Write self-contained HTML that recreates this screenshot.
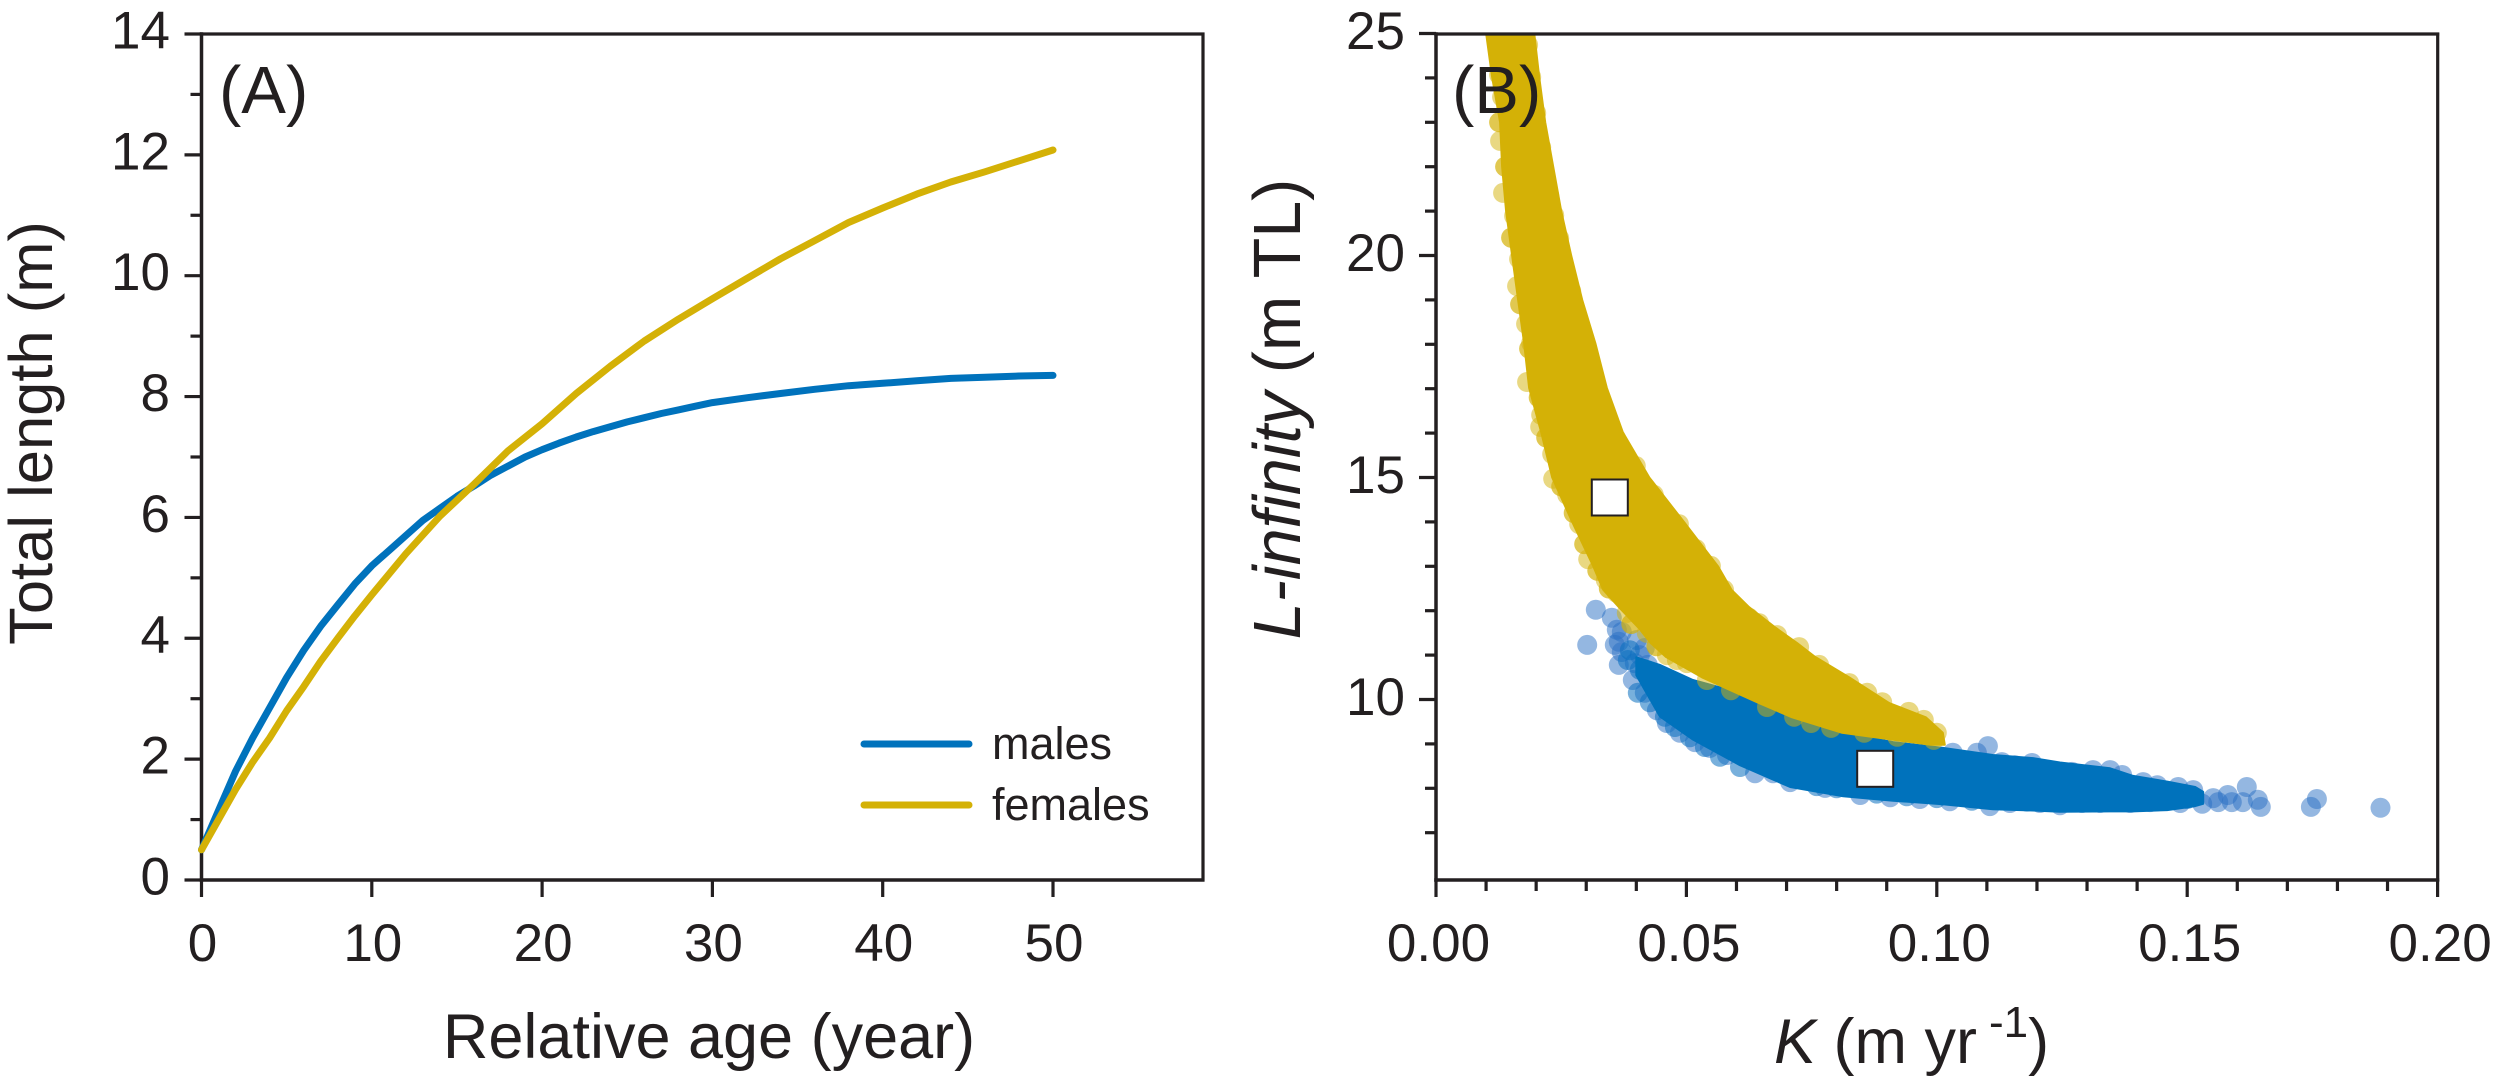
<!DOCTYPE html>
<html lang="en">
<head>
<meta charset="utf-8">
<title>Growth curves and parameter scatter</title>
<style>
html,body{margin:0;padding:0;background:#fff;}
svg{display:block;}
text{font-family:"Liberation Sans",Arial,sans-serif;fill:#231f20;}
</style>
</head>
<body>
<svg id="fig" xmlns="http://www.w3.org/2000/svg" width="2500" height="1083" viewBox="0 0 2500 1083">
  <rect width="2500" height="1083" fill="#fff"/>
  <defs>
    <clipPath id="clipB"><rect x="1436" y="34" width="1002" height="846"/></clipPath>
  </defs>
  <g id="panelA"></g>
  <g id="panelB"></g>
  <text x="219" y="113" font-size="67">(A)</text>
  <text x="1452" y="113" font-size="67" fill="#000">(B)</text>
  <text transform="translate(52 433) rotate(-90)" text-anchor="middle" font-size="61.5">Total length (m)</text>
  <text x="709" y="1058" text-anchor="middle" font-size="63">Relative age (year)</text>
  <text transform="translate(1300 409) rotate(-90)" text-anchor="middle" font-size="66.5"><tspan font-style="italic">L-infinity</tspan> (m TL)</text>
  <text x="1774" y="1063" font-size="63"><tspan font-style="italic">K</tspan> (m yr<tspan dx="12" dy="-26" font-size="44">-1</tspan><tspan dy="26">)</tspan></text>
  <line x1="864" y1="744" x2="969" y2="744" stroke="#0072bc" stroke-width="7" stroke-linecap="round"/>
  <line x1="864" y1="805" x2="969" y2="805" stroke="#d4b106" stroke-width="7" stroke-linecap="round"/>
  <text x="992" y="759" font-size="45">males</text>
  <text x="992" y="820" font-size="45">females</text>
</svg>
<script>
// Panel A: growth curves
const ageTicks = [0, 10, 20, 30, 40, 50];
const lengthTicks = [0, 2, 4, 6, 8, 10, 12, 14];
const lengthMinorTicks = [1, 3, 5, 7, 9, 11, 13];
const maleAges = [0,1,2,3,4,5,6,7,8,9,10,11,12,13,14,15,16,17,18,19,20,21,22,23,24,25,26,27,28,29,30,32,34,36,38,40,42,44,46,48,50];
const maleLengths = [0.5,1.15,1.8,2.35,2.85,3.35,3.8,4.2,4.55,4.9,5.2,5.45,5.7,5.95,6.15,6.35,6.52,6.7,6.85,7.0,7.12,7.23,7.33,7.42,7.5,7.58,7.65,7.72,7.78,7.84,7.9,7.98,8.05,8.12,8.18,8.22,8.26,8.3,8.32,8.34,8.35];
const femaleAges = [0,1,2,3,4,5,6,7,8,9,10,12,14,16,18,20,22,24,26,28,30,32,34,36,38,40,42,44,46,48,50];
const femaleLengths = [0.5,1.0,1.5,1.95,2.35,2.8,3.2,3.62,4.0,4.37,4.72,5.4,6.02,6.55,7.1,7.55,8.05,8.5,8.92,9.28,9.62,9.95,10.28,10.58,10.88,11.12,11.35,11.55,11.72,11.9,12.08];

// Panel B: K vs L-infinity
const kTicks = [0.00, 0.05, 0.10, 0.15, 0.20];
const kTickLabels = ["0.00", "0.05", "0.10", "0.15", "0.20"];
const kMinorTicks = [0.01,0.02,0.03,0.04,0.06,0.07,0.08,0.09,0.11,0.12,0.13,0.14,0.16,0.17,0.18,0.19];
const lInfTicks = [10, 15, 20, 25];
const lInfMinorTicks = [7,8,9,11,12,13,14,16,17,18,19,21,22,23,24];

// dense cores of the clouds
const femaleCoreL = [25.01,24.02,23.0,22.0,21.0,20.0,19.0,18.03,17.02,16.02,15.0,14.0,13.0,12.47,12.08,11.61,11.27,10.96,10.5,9.92,9.6,9.25,8.98];
const femaleCoreKLeft = [0.0100,0.0112,0.0128,0.0132,0.0140,0.0152,0.0164,0.0176,0.0186,0.0210,0.0232,0.0272,0.0314,0.0334,0.0365,0.0405,0.0429,0.0459,0.0531,0.0645,0.0711,0.0811,0.0988];
const femaleCoreKRight = [0.0196,0.0206,0.0218,0.0234,0.0250,0.0270,0.0292,0.0318,0.0341,0.0373,0.0426,0.0495,0.0563,0.0590,0.0625,0.0679,0.0721,0.0757,0.0825,0.0905,0.0978,0.1012,0.1016];
const maleCoreK = [0.0400,0.0447,0.0513,0.0607,0.0707,0.0813,0.0913,0.1012,0.1112,0.1192,0.1246,0.1346,0.1392,0.1460,0.1516,0.1532];
const maleCoreLUpper = [10.95,10.78,10.44,10.15,9.65,9.25,9.04,8.91,8.75,8.68,8.58,8.45,8.28,8.15,8.03,7.92];
const maleCoreLLower = [10.55,9.62,9.10,8.52,8.03,7.82,7.72,7.64,7.53,7.50,7.47,7.48,7.48,7.51,7.60,7.65];

// individually visible samples at the cloud margins
const maleK = [0.0319,0.0302,0.0351,0.0361,0.0371,0.0365,0.0357,0.0371,0.0365,0.0397,0.0407,0.0417,0.0401,0.0423,0.0393,0.0417,0.0441,0.0461,0.0487,0.0517,0.0547,0.0581,0.0637,0.0673,0.0707,0.0777,0.0847,0.0907,0.0966,0.1026,0.1106,0.1146,0.1206,0.1246,0.1290,0.1326,0.1386,0.1426,0.1486,0.1102,0.1032,0.1080,0.1190,0.1156,0.1130,0.1312,0.1346,0.1370,0.1412,0.1440,0.1512,0.1482,0.1270,0.1886,0.1759,0.1747,0.1647,0.1641,0.1619,0.1611,0.1589,0.1581,0.1562,0.1552,0.1530];
const maleL = [12.02,11.23,11.84,11.57,11.52,11.30,11.23,11.07,10.78,10.82,11.0,11.16,11.34,10.78,10.44,10.15,9.76,9.47,9.25,9.04,8.91,8.75,8.34,8.34,8.14,8.01,7.85,7.80,7.76,7.71,7.60,7.67,7.67,7.62,7.67,7.67,7.67,7.69,7.67,8.95,8.80,8.80,8.57,8.52,8.59,8.41,8.41,8.30,8.14,8.07,7.96,8.03,8.37,7.56,7.76,7.58,7.58,7.74,8.03,7.69,7.69,7.85,7.69,7.78,7.65];
const maleExtraK = [0.0383,0.0387,0.0407,0.0427,0.0403,0.0427,0.0457,0.0477,0.0507,0.0537,0.0567,0.0607,0.0760,0.0800,0.0880,0.0940,0.1000,0.1070,0.1180,0.1270,0.1350,0.1450,0.1500];
const maleExtraL = [10.89,11.11,10.67,10.44,10.15,9.94,9.61,9.38,9.15,8.93,8.71,8.48,8.05,8.00,7.88,7.82,7.78,7.72,7.70,7.70,7.70,7.72,7.76];
const femaleK = [0.0126,0.0132,0.0128,0.0134,0.0156,0.0166,0.0162,0.0180,0.0190,0.0200,0.0182,0.0210,0.0208,0.0232,0.0234,0.0262,0.0286,0.0304,0.0339,0.0361,0.0381,0.0421,0.0461,0.0481,0.0501,0.0541,0.0589,0.0661,0.0715,0.0749,0.0789,0.0855,0.0921,0.0184,0.0190,0.0200,0.0210,0.0226,0.0236,0.0246,0.0270,0.0286,0.0305,0.0325,0.0359,0.0399,0.0435,0.0485,0.0519,0.0549,0.0575,0.0625,0.0645,0.0681,0.0725,0.0765,0.0825,0.0861,0.0891,0.0944,0.0974,0.1000,0.0994];
const femaleL = [24.07,23.57,22.58,21.41,20.89,19.92,19.31,18.46,18.03,17.62,17.15,16.41,16.14,15.53,14.97,14.61,13.95,13.16,12.69,12.40,11.95,11.50,11.0,10.89,10.82,10.44,10.21,9.83,9.61,9.47,9.36,9.25,9.16,24.74,24.02,23.21,22.44,21.36,20.91,20.39,19.20,18.46,17.58,16.81,15.89,15.26,14.61,13.95,13.39,13.01,12.47,11.84,11.72,11.45,11.18,10.78,10.37,10.15,9.94,9.72,9.54,9.25,9.09];
const femaleExtraK = [0.0190,0.0198,0.0210,0.0230,0.0246,0.0272,0.0292,0.0314,0.0340,0.0369,0.0404,0.0449,0.0484,0.0519,0.0126,0.0138,0.0150,0.0168,0.0186,0.0205,0.0220,0.0250,0.0275,0.0296,0.0322,0.0345,0.0390,0.0440];
const femaleExtraL = [23.7,22.9,21.9,20.6,19.8,18.8,18.0,17.2,16.3,15.6,14.9,14.3,13.7,13.2,23.0,22.0,20.4,18.9,17.9,16.8,15.9,14.8,14.2,13.5,12.9,12.5,11.7,11.2];

// mean estimates
const meanK = [0.0347, 0.0877];
const meanL = [14.55, 8.44];

const NS = "http://www.w3.org/2000/svg";
const inkColor = "#231f20";
const blue = "#0072bc";
const gold = "#d4b106";

function xA(v){ return 201.5 + v * 17.03; }
function yA(v){ return 880 - v * 60.43; }
function xB(v){ return 1436 + v * 5008; }
function yB(v){ return 477.5 - (v - 15) * 44.4; }

function make(tag, attrs, parent){
  const el = document.createElementNS(NS, tag);
  for (const k in attrs) el.setAttribute(k, attrs[k]);
  parent.appendChild(el);
  return el;
}
function segment(parent, x1, y1, x2, y2, w, name){
  const el = make("line", {x1:x1, y1:y1, x2:x2, y2:y2, stroke:inkColor, "stroke-width":w}, parent);
  
  
}
function label(parent, x, y, str, anchor, name){
  const el = make("text", {x:x, y:y, "text-anchor":anchor, "font-size":53}, parent);
  el.textContent = str;
  
  
}
function curve(parent, xs, ys, color, name){
  const d = xs.map((a, i) => (i ? "L" : "M") + xA(a).toFixed(1) + " " + yA(ys[i]).toFixed(1)).join("");
  const el = make("path", {d:d, fill:"none", stroke:color, "stroke-width":7, "stroke-linecap":"round", "stroke-linejoin":"round"}, parent);
  
  
}
function frame(parent, left, top, right, bottom){
  segment(parent, left, top - 1.75, left, bottom + 1.75, 3.5, "left-axis");
  segment(parent, left - 1.75, bottom, right + 1.5, bottom, 3.5, "bottom-axis");
  segment(parent, left - 1.75, top, right + 1.5, top, 3.2, "top-border");
  segment(parent, right, top - 1.5, right, bottom + 1.5, 3.2, "right-border");
}

// ---- Panel A ----
const A = document.getElementById("panelA");
frame(A, 201.5, 34, 1203, 880);
lengthTicks.forEach(v => {
  segment(A, 184.5, yA(v), 201.5, yA(v), 3.2, "y-tick-major");
  label(A, 170, yA(v) + 14.5, String(v), "end", "y-tick-label");
});
lengthMinorTicks.forEach(v => {
  segment(A, 190.5, yA(v), 201.5, yA(v), 3.2, "y-tick-minor");
});
ageTicks.forEach(v => {
  segment(A, xA(v), 880, xA(v), 897, 3.2, "x-tick-major");
  label(A, xA(v) + 1, 961, String(v), "middle", "x-tick-label");
});
curve(A, maleAges, maleLengths, blue, "males-growth-curve");
curve(A, femaleAges, femaleLengths, gold, "females-growth-curve");

// ---- Panel B ----
const B = document.getElementById("panelB");
const cloud = make("g", {"clip-path":"url(#clipB)"}, B);



function scatter(xs, ys, color, op, name){
  xs.forEach((k, i) => {
    const c = make("circle", {cx:xB(k).toFixed(1), cy:yB(ys[i]).toFixed(1), r:10, fill:color, "fill-opacity":op}, cloud);
    
    
  });
}
function maleCorePath(){
  const up = maleCoreK.map((k, i) => xB(k).toFixed(1) + " " + yB(maleCoreLUpper[i]).toFixed(1));
  const lo = maleCoreK.map((k, i) => xB(k).toFixed(1) + " " + yB(maleCoreLLower[i]).toFixed(1)).reverse();
  return "M" + up.concat(lo).join("L") + "Z";
}
function femaleCorePath(){
  const lf = femaleCoreL.map((l, i) => xB(femaleCoreKLeft[i]).toFixed(1) + " " + yB(l).toFixed(1));
  const rt = femaleCoreL.map((l, i) => xB(femaleCoreKRight[i]).toFixed(1) + " " + yB(l).toFixed(1)).reverse();
  return "M" + lf.concat(rt).join("L") + "Z";
}
scatter(maleK, maleL, "#2a6fc4", 0.5, "male-sample-point");
scatter(maleExtraK, maleExtraL, "#0a70c0", 0.55, "male-sample-point");
const mc = make("path", {d:maleCorePath(), fill:blue, stroke:blue, "stroke-width":2, "stroke-linejoin":"round"}, cloud);


scatter(femaleK, femaleL, gold, 0.5, "female-sample-point");
scatter(femaleExtraK, femaleExtraL, gold, 0.7, "female-sample-point");
const fc = make("path", {d:femaleCorePath(), fill:gold, stroke:gold, "stroke-width":2, "stroke-linejoin":"round"}, cloud);



meanK.forEach((k, i) => {
  const s = make("rect", {x:(xB(k) - 18).toFixed(1), y:(yB(meanL[i]) - 18).toFixed(1), width:36, height:36, fill:"#fff", stroke:inkColor, "stroke-width":2}, B);
  
  
});

frame(B, 1436, 34, 2437.7, 880);
lInfTicks.forEach(v => {
  segment(B, 1419, yB(v), 1436, yB(v), 3.2, "y-tick-major");
  label(B, 1405, yB(v) + 15.5, String(v), "end", "y-tick-label");
});
lInfMinorTicks.forEach(v => {
  segment(B, 1425, yB(v), 1436, yB(v), 3.2, "y-tick-minor");
});
kTicks.forEach((v, i) => {
  segment(B, xB(v), 880, xB(v), 897, 3.2, "x-tick-major");
  label(B, xB(v) + 2.5, 961, kTickLabels[i], "middle", "x-tick-label");
});
kMinorTicks.forEach(v => {
  segment(B, xB(v), 880, xB(v), 891, 3.2, "x-tick-minor");
});
</script>
</body>
</html>
